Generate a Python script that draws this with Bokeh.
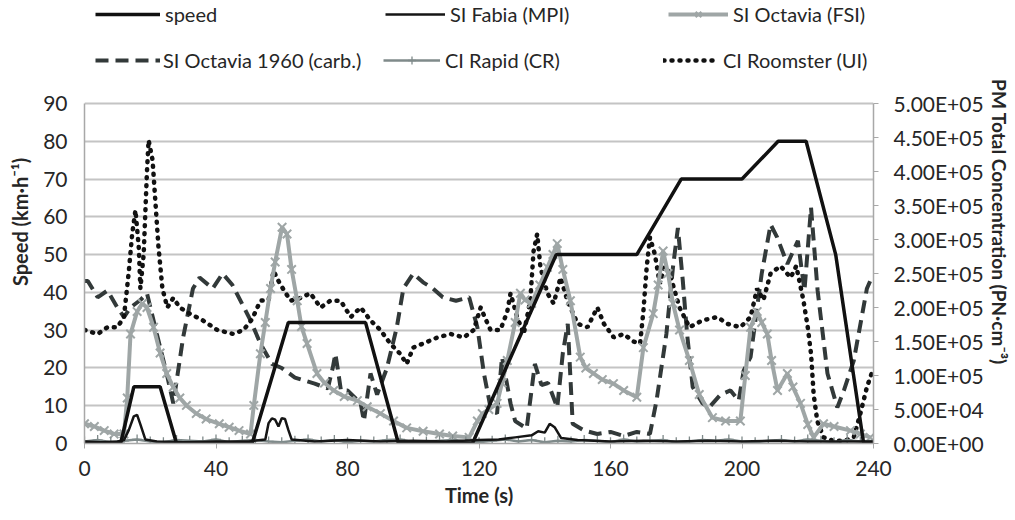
from bokeh.plotting import figure
from bokeh.models import (Range1d, LinearAxis, FixedTicker, CustomJSTickFormatter,
                          Legend, LegendItem)
from bokeh.embed import file_html
from bokeh.resources import INLINE

# ---------------- data ----------------
# speed profile (km/h), left axis
speed_t = [0, 11, 15, 23, 28, 51, 62, 85.5, 95.5, 118, 143.5, 168, 181.5, 200, 211, 219.5, 228.5, 237, 240]
speed_v = [0, 0, 15, 15, 0, 0, 32, 32, 0, 0, 50, 50, 70, 70, 80, 80, 50, 0, 0]

# PM concentrations in units of 1e4 PN/cm3 (right axis)
fabia_t = [0, 5, 10, 12, 13.5, 15, 16, 17, 18.5, 22, 30, 40, 50, 55, 56, 57, 58, 59, 60, 61, 62, 63,
           70, 80, 90, 100, 110, 120, 126, 131, 136, 138, 140, 141.5, 143, 145, 150, 160, 170, 180,
           190, 200, 210, 220, 230, 240]
fabia_v = [0.3, 0.2, 0.3, 0.5, 2.0, 4.0, 4.2, 2.8, 0.6, 0.3, 0.2, 0.3, 0.3, 0.6, 3.0, 3.7, 3.5, 2.5, 3.7, 3.6, 2.0, 0.6,
           0.3, 0.5, 0.3, 0.4, 0.3, 0.5, 0.6, 0.9, 1.2, 1.8, 1.6, 2.9, 2.4, 0.8, 0.5, 0.3, 0.4, 0.3,
           0.4, 0.3, 0.4, 0.3, 0.3, 0.3]

fsi_t = [0, 3, 6, 9, 12, 13, 14, 16, 17.6, 19, 21, 23, 25, 27, 29, 31, 34, 37, 41, 44, 47, 50.5,
         51.5, 53.5, 55, 56.6, 58, 60.1, 61.6, 63, 64.7, 66, 67.7, 70.7, 73, 75.8, 79, 83, 86, 90, 94,
         98, 103, 108, 112, 117, 119.5, 121, 123, 125.5, 127, 128.6, 131, 132.6, 134, 136, 138.5,
         140.8, 142.5, 143.8, 145.5, 147.8, 150.8, 152.5, 154.8, 157.5, 160.9, 164, 168, 170, 173,
         174.5, 176, 177.5, 179, 181, 184, 187, 191, 195, 199.5, 201, 202.6, 204.6, 206, 207.7, 209,
         210.8, 213.8, 215.5, 217.8, 220, 221.8, 224.8, 228, 233, 236, 239]
fsi_v = [2.9, 2.5, 1.9, 1.4, 1.4, 6.7, 16.1, 19.4, 20.6, 20.0, 17.1, 13.3, 10.3, 8.3, 6.7, 5.6, 4.4, 3.6, 2.9, 2.4, 1.9, 1.4,
         5.6, 13.2, 17.8, 22.8, 26.7, 31.8, 30.8, 25.6, 21.0, 17.2, 14.7, 10.3, 8.9, 7.8, 6.9, 6.3, 5.4, 4.4, 3.3,
         2.3, 1.8, 1.4, 1.1, 0.9, 3.3, 4.4, 5.0, 5.9, 8.9, 12.2, 17.8, 22.1, 21.1, 20.6, 23.3,
         25.9, 27.8, 29.4, 25.6, 21.0, 12.7, 11.1, 10.3, 9.4, 8.8, 7.8, 6.8, 14.1, 19.1,
         23.3, 28.3, 25.0, 20.6, 16.7, 12.2, 7.2, 3.8, 3.3, 3.3, 10.0, 17.1, 19.4, 17.8, 16.1, 12.2,
         7.8, 10.3, 8.3, 5.9, 2.8, 0.9, 2.9, 2.5, 1.9, 1.4, 0.9]

carb_t = [0, 1, 4, 7, 10, 12, 14, 17, 19, 22, 25, 27, 30, 33, 35, 39, 42, 45, 48.5, 50.5, 53.5, 57, 60,
          64, 70, 74, 75.5, 76.3, 77, 78, 80, 84, 85, 87, 89, 92, 95, 97, 100, 103, 106, 109, 113, 117,
          119.5, 121.5, 123.5, 125.5, 127, 129.6, 131, 134.5, 137, 139, 141, 143.8, 145.5, 147, 148.5,
          152, 156, 160, 164, 168, 172, 174, 177, 179, 180.5, 182, 183.3, 185, 188, 190, 193.5, 196.5,
          199, 200.5, 202.6, 204.6, 206, 208.7, 210.7, 213.8, 217, 219, 221, 223, 226, 229, 231, 234,
          238, 239]
carb_v = [23.9, 23.9, 21.5, 22.5, 20.0, 18.6, 20.0, 21.1, 22.1, 16.1, 10.3, 5.9, 15.6, 22.8, 24.4, 22.8, 25.0, 23.3, 20.0, 18.1, 14.7, 11.7, 11.1,
          9.7, 8.8, 8.1, 11.1, 13.2, 11.1, 7.8, 7.8, 5.9, 3.3, 10.3, 7.2, 11.1, 17.1, 22.8, 25.0, 23.7, 22.8, 21.5, 21.0, 21.5,
          17.1, 10.3, 5.3, 4.4, 12.7, 5.9, 3.3, 2.2, 11.7, 8.6, 8.9, 5.3, 13.3, 17.6, 2.9,
          1.9, 1.4, 1.7, 1.1, 1.7, 1.4, 6.3, 16.1, 25.9, 31.7, 23.9, 16.1, 8.3, 5.9, 5.3, 7.2, 7.8,
          6.3, 10.7, 12.7, 20.0, 25.0, 32.2, 30.3, 26.4, 29.8, 22.5, 34.7, 22.5, 10.3, 5.3, 7.8, 12.2,
          22.8, 23.9]

rapid_t = [0, 4, 8, 12, 16, 20, 24, 28, 32, 36, 40, 44, 48, 52, 56, 60, 64, 68, 72, 76, 80, 84, 88, 92,
           96, 100, 104, 108, 112, 116, 120, 124, 128, 132, 136, 140, 144, 148, 152, 156, 160, 164, 168,
           172, 176, 180, 184, 188, 192, 196, 200, 204, 208, 212, 216, 220, 224, 228, 232, 236, 240]
rapid_v = [0.3, 0.5, 0.2, 0.4, 0.6, 0.3, 0.2, 0.5, 0.4, 0.3, 0.6, 0.2, 0.4, 0.5, 0.3, 0.2, 0.4, 0.6, 0.3, 0.5,
           0.2, 0.4, 0.3, 0.5, 0.6, 0.2, 0.3, 0.4, 0.5, 0.3, 0.2, 0.4, 0.6, 0.3, 0.5, 0.2, 0.4, 0.3, 0.5,
           0.4, 0.2, 0.6, 0.3, 0.4, 0.5, 0.2, 0.3, 0.5, 0.4, 0.6, 0.3, 0.2, 0.4, 0.5, 0.3, 0.6, 0.4, 0.2,
           0.5, 0.3, 0.4]

ui_t = [0, 4, 7, 10, 12, 13.5, 14.5, 15.5, 16.5, 17, 18, 19, 19.5, 20.7, 21.6, 22.5, 23.7, 25.2, 27, 29,
        32, 36, 40.4, 45.3, 48.4, 51, 53.5, 56, 57.5, 59, 60.7, 62.7, 65.7, 68.7, 71.8, 74.8, 77.9, 81,
        84, 87, 90, 93, 96, 98, 100, 103, 107.4, 111.4, 115.4, 118.4, 120.5, 122, 123.5, 126.5, 128.6,
        129.6, 131.6, 133.6, 135.6, 136.6, 137.7, 138.7, 140.8, 142.7, 144.8, 146.9, 150, 153, 156, 158,
        161, 164, 167, 169, 170, 171, 172, 173.5, 175, 176.5, 178, 181, 184, 188, 192.5, 195.5, 199.5,
        202.6, 204.6, 206.5, 208.7, 211.7, 214.8, 216.5, 218.7, 220, 221, 221.8, 222.9, 224.8, 227.8,
        231, 234, 236, 238, 240]
ui_v = [16.7, 16.1, 17.1, 17.1, 18.6, 25.4, 30.8, 34.3, 28.9, 22.8, 27.8, 40.0, 44.6, 41.7, 35.3, 28.9, 22.8, 20.0, 21.4, 20.0,
        19.1, 18.1, 16.7, 16.1, 16.7, 18.3, 21.0, 21.1, 25.4, 23.9, 22.5, 21.0, 21.4, 22.1, 20.0, 21.0, 21.0, 18.6,
        20.0, 18.1, 16.7, 14.7, 13.2, 11.7, 14.1, 14.7, 15.6, 16.1, 15.6, 16.7, 20.0, 18.3, 16.7, 16.7, 19.4,
        22.1, 18.6, 16.1, 21.0, 28.3, 30.8, 25.9, 22.1, 20.6, 24.4, 21.0, 17.6, 17.1, 20.0, 17.6,
        15.6, 16.1, 15.0, 14.7, 19.4, 25.9, 30.3, 27.8, 23.5, 26.1, 25.0, 20.0, 17.1, 18.1, 18.6, 17.6, 17.1,
        18.6, 22.8, 21.1, 25.0, 26.1, 24.4, 26.1, 21.0, 17.1, 13.2, 7.2, 3.3, 0.9, 0.4,
        0.4, 0.9, 4.4, 8.3, 11.1]

left_ticks = [0, 10, 20, 30, 40, 50, 60, 70, 80, 90]
right_ticks = [0, 5, 10, 15, 20, 25, 30, 35, 40, 45, 50]   # x 1e4 PN/cm3
bottom_ticks = [0, 40, 80, 120, 160, 200, 240]

# ---------------- figure ----------------
FONT = "Lato"
TXT = "#262626"
GRID = "#c4c4c4"
AX = "#a8a8a8"

W, H = 1015, 520
FRAME_LEFT, FRAME_RIGHT = 84, 873
FRAME_BOTTOM = 443          # px from top of canvas
FRAME_TOP_90 = 103          # px where speed = 90 sits
scale = FRAME_BOTTOM / (FRAME_BOTTOM - FRAME_TOP_90)   # frame reaches canvas top (legend lives in it)

p = figure(width=W, height=H, output_backend="svg", toolbar_location=None,
           x_range=Range1d(0, 240), y_range=Range1d(0, 90 * scale),
           min_border_left=FRAME_LEFT, min_border_right=W - FRAME_RIGHT, min_border_top=0,
           min_border_bottom=H - FRAME_BOTTOM)
p.outline_line_color = None
p.extra_y_ranges = {"pm": Range1d(0, 50 * scale)}

p.xgrid.visible = False
p.ygrid.ticker = FixedTicker(ticks=left_ticks)
p.ygrid.grid_line_color = GRID
p.ygrid.grid_line_width = 2

# left axis
la = p.yaxis[0]
la.ticker = FixedTicker(ticks=left_ticks)
la.bounds = (0, 90)
la.axis_label = "Speed (km·h⁻¹)"
la.axis_line_color = AX
la.axis_line_width = 1.5
la.major_tick_out = 0
la.major_tick_in = 0
la.minor_tick_out = 0
la.minor_tick_in = 0
la.major_label_standoff = 17
la.axis_label_standoff = 8

# bottom axis
ba = p.xaxis[0]
ba.ticker = FixedTicker(ticks=bottom_ticks)
ba.axis_label = "Time (s)"
ba.axis_line_color = AX
ba.axis_line_width = 1.5
ba.major_tick_out = 5
ba.major_tick_in = 0
ba.major_tick_line_color = AX
ba.minor_tick_out = 0
ba.minor_tick_in = 0
ba.major_label_standoff = 12
ba.axis_label_standoff = 4

# right axis
ra = LinearAxis(y_range_name="pm", ticker=FixedTicker(ticks=right_ticks), bounds=(0, 50),
                formatter=CustomJSTickFormatter(code="""
const s = (tick * 1e4).toExponential(2);
const parts = s.split('e');
const e = parts[1];
const sign = e[0];
let d = e.slice(1);
if (d.length < 2) { d = '0' + d; }
return parts[0] + 'E' + sign + d;
"""))
ra.axis_label = "PM Total Concentration (PN·cm⁻³)"
ra.axis_line_color = AX
ra.axis_line_width = 1.5
ra.major_tick_out = 5
ra.major_tick_in = 0
ra.major_tick_line_color = AX
ra.minor_tick_out = 0
ra.minor_tick_in = 0
ra.major_label_standoff = 15
ra.axis_label_standoff = 1
p.add_layout(ra, "right")

for ax in (la, ba, ra):
    ax.major_label_text_font = FONT
    ax.major_label_text_font_size = "21px"
    ax.major_label_text_color = TXT
    ax.axis_label_text_font = FONT
    ax.axis_label_text_font_size = "20px"
    ax.axis_label_text_font_style = "bold"
    ax.axis_label_text_color = TXT
ra.axis_label_text_font_size = "19px"

# ---------------- series ----------------
C_FSI = "#9fa6a6"
C_RAPID = "#7f8a8a"
C_CARB = "#323939"

r_carb = p.line(carb_t, carb_v, y_range_name="pm", line_color=C_CARB, line_width=4,
                line_dash="13 7")
r_ui = p.line(ui_t, ui_v, y_range_name="pm", line_color="#111111", line_width=4.5,
              line_dash="1 7", line_cap="round")
r_fsi = p.line(fsi_t, fsi_v, y_range_name="pm", line_color=C_FSI, line_width=4)
r_fsi_m = p.scatter(fsi_t, fsi_v, y_range_name="pm", marker="x", size=12, line_color=C_FSI,
                    line_width=2)
r_rapid = p.line(rapid_t, rapid_v, y_range_name="pm", line_color=C_RAPID, line_width=2.5)
r_rapid_m = p.scatter(rapid_t, rapid_v, y_range_name="pm", marker="cross", size=10,
                      line_color=C_RAPID, line_width=1.3)
r_fabia = p.line(fabia_t, fabia_v, y_range_name="pm", line_color="#151515", line_width=2.5)
r_speed = p.line(speed_t, speed_v, line_color="#111111", line_width=3.5)

# ---------------- legends (one per entry, inside the upper, axis-free part of the frame) ----------------
def add_leg(label, renderers, x, y, gw, standoff):
    leg = Legend(items=[LegendItem(label=label, renderers=renderers)], location=(x, y),
                 orientation="horizontal", padding=0, margin=0, spacing=0,
                 glyph_width=gw, glyph_height=20, label_height=20,
                 label_standoff=standoff, border_line_color=None,
                 background_fill_alpha=0, label_text_font=FONT,
                 label_text_font_size="20px", label_text_color=TXT)
    p.add_layout(leg)

add_leg("speed", [r_speed], 11, 417, 65, 5)
add_leg("SI Fabia (MPI)", [r_fabia], 301, 417, 60, 5)
add_leg("SI Octavia (FSI)", [r_fsi, r_fsi_m], 584, 417, 60, 5)
add_leg("SI Octavia 1960 (carb.)", [r_carb], 11, 371, 65, 3)
add_leg("CI Rapid (CR)", [r_rapid, r_rapid_m], 299, 371, 57, 5)
add_leg("CI Roomster (UI)", [r_ui], 579, 371, 55, 5)

open("out.html", "w").write(file_html(p, INLINE))
